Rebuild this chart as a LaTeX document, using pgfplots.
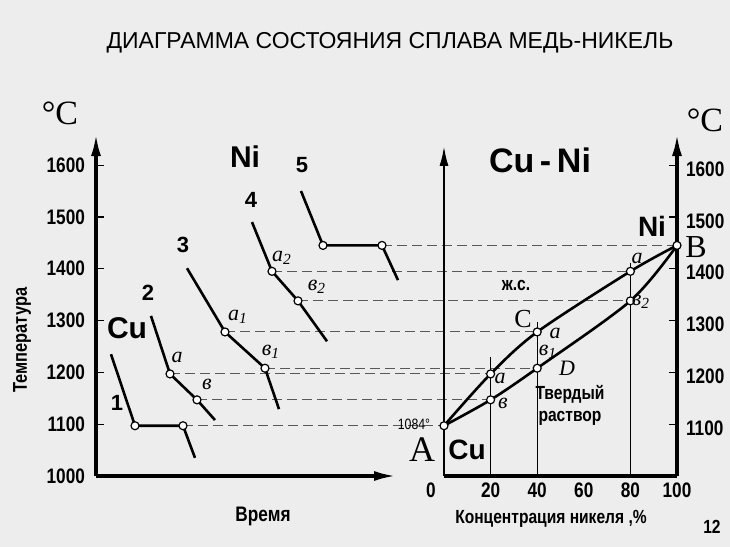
\documentclass[border=0pt]{standalone}
\usepackage{fontspec}
\setmainfont{Liberation Sans}
\newfontfamily\nar[FakeStretch=0.82]{Liberation Sans}
\newfontfamily\ser{Liberation Serif}
\usepackage{pgfplots}
\pgfplotsset{compat=1.18}
\usetikzlibrary{arrows.meta}
\definecolor{bg}{gray}{0.93}
\definecolor{dsh}{gray}{0.35}
\begin{document}
\begin{tikzpicture}
\path[use as bounding box, fill=bg] (0,0) rectangle (365pt,273.5pt);
\pgfplotsset{panel/.style={scale only axis, clip=false, ymin=1000, ymax=1660, height=171pt,
  anchor=south west, /pgf/number format/assume math mode=true, /pgf/number format/1000 sep={},
  ticklabel style={font=\nar\bfseries\fontsize{10.5}{12}\selectfont},
  tick align=inside, major tick length=4pt, tick style={line width=0.6pt, black}},
  curve/.style={black, line width=1.3pt},
  dl/.style={dsh, line width=0.5pt, dash pattern=on 5pt off 2.5pt},
  pts/.style={only marks, mark=*, mark size=2pt, mark options={fill=white, draw=black, line width=0.6pt}}}
% ---------------- left panel: cooling curves -------------
\begin{axis}[panel, at={(48pt,35.5pt)}, width=150pt, xmin=0, xmax=30,
  axis x line*=bottom, axis y line*=left,
  axis line style={line width=1.6pt, -{Latex[length=11pt,width=5pt]}},
  xtick=\empty, ytick={1000,1100,...,1600},
  yticklabel style={xshift=-2pt}]
% dashed connecting lines (time units continued to the right panel)
\addplot[dl] coordinates {(8.7,1097) (34.8,1097)};
\addplot[dl] coordinates {(7.4,1197) (39.46,1197)};
\addplot[dl] coordinates {(10.1,1147) (39.46,1147)};
\addplot[dl] coordinates {(12.9,1278) (44.12,1278)};
\addplot[dl] coordinates {(16.9,1208) (44.12,1208)};
\addplot[dl] coordinates {(17.6,1395) (53.44,1395)};
\addplot[dl] coordinates {(20.2,1338) (53.44,1338)};
\addplot[dl] coordinates {(28.6,1445) (58.1,1445)};
% curves
\addplot[curve] coordinates {(1.5,1235) (3.9,1097) (8.7,1097) (9.9,1035)};
\addplot[curve] coordinates {(5.5,1309) (7.4,1197) (10.1,1147) (11.9,1108)};
\addplot[curve] coordinates {(9.1,1401) (12.9,1278) (16.9,1208) (18.3,1129)};
\addplot[curve] coordinates {(15.6,1490) (17.6,1395) (20.2,1338) (23.1,1260)};
\addplot[curve] coordinates {(20.5,1550) (22.7,1445) (28.6,1445) (30.2,1378)};
\addplot[pts] coordinates {(3.9,1097) (8.7,1097) (7.4,1197) (10.1,1147) (12.9,1278) (16.9,1208)
  (17.6,1395) (20.2,1338) (22.7,1445) (28.6,1445)};
\end{axis}
% ---------------- right panel: phase diagram -------------
\begin{axis}[panel, at={(222pt,35.5pt)}, width=116.5pt, xmin=0, xmax=100,
  axis x line*=bottom, axis y line*=right,
  x axis line style={line width=1.6pt},
  y axis line style={line width=1.6pt, -{Latex[length=11pt,width=5pt]}},
  xtick={20,40,60,80,100}, xtick style={draw=none},
  ytick={1100,1200,...,1600}, yticklabel style={xshift=1pt, yshift=-2pt}]
\addplot[black, line width=1.1pt, -{Latex[length=10pt,width=4.5pt]}] coordinates {(0,1000) (0,1637)};
\addplot[black, line width=0.5pt] coordinates {(20,1000) (20,1230)};
\addplot[black, line width=0.5pt] coordinates {(40,1000) (40,1297)};
\addplot[black, line width=0.5pt] coordinates {(80,1000) (80,1411)};
\addplot[curve, smooth] coordinates {(0,1097) (20,1197) (40,1278) (80,1395) (100,1445)};
\addplot[curve, smooth] coordinates {(0,1097) (20,1147) (40,1208) (80,1338) (100,1445)};
\addplot[pts] coordinates {(0,1097) (20,1197) (40,1278) (80,1395) (100,1445) (20,1147) (40,1208) (80,1338)};
\end{axis}
% ---------------- texts -------------
\begin{scope}[shift={(0pt,273.5pt)}, x=0.5pt, y=-0.5pt]
\node[font=\fontsize{11.5}{13}\selectfont] at (390,43) {ДИАГРАММА СОСТОЯНИЯ СПЛАВА МЕДЬ-НИКЕЛЬ};
\node[font=\ser\fontsize{17}{20}\selectfont] at (60,113) {°C};
\node[font=\ser\fontsize{17}{20}\selectfont] at (705,120) {°C};
\node[rotate=90, font=\nar\bfseries\fontsize{10}{12}\selectfont] at (22,340) {Температура};
\node[font=\nar\bfseries\fontsize{10.5}{12}\selectfont] at (263,516) {Время};
\node[font=\nar\bfseries\fontsize{9.5}{12}\selectfont] at (551,519) {Концентрация никеля ,\%};
\node[font=\nar\bfseries\fontsize{9.5}{12}\selectfont] at (712,527) {12};
\node[font=\nar\bfseries\fontsize{10.5}{12}\selectfont] at (431,490) {0};
% curve numbers
\node[font=\bfseries\fontsize{11}{12}\selectfont] at (117,403) {1};
\node[font=\bfseries\fontsize{11}{12}\selectfont] at (148,293) {2};
\node[font=\bfseries\fontsize{11}{12}\selectfont] at (183,245) {3};
\node[font=\bfseries\fontsize{11}{12}\selectfont] at (251,200) {4};
\node[font=\bfseries\fontsize{11}{12}\selectfont] at (302,165) {5};
\node[font=\bfseries\fontsize{15}{16}\selectfont] at (127,328) {Cu};
\node[font=\bfseries\fontsize{15}{16}\selectfont] at (245,157) {Ni};
% point labels left
\node[font=\ser\itshape\fontsize{11}{12}\selectfont] at (177,357) {a};
\node[font=\ser\itshape\fontsize{11}{12}\selectfont] at (207,384) {в};
\node[font=\ser\itshape\fontsize{11}{12}\selectfont] at (238,317) {a\textsubscript{1}};
\node[font=\ser\itshape\fontsize{11}{12}\selectfont] at (271,352) {в\textsubscript{1}};
\node[font=\ser\itshape\fontsize{11}{12}\selectfont] at (282,258) {a\textsubscript{2}};
\node[font=\ser\itshape\fontsize{11}{12}\selectfont] at (317,287) {в\textsubscript{2}};
% right panel labels
\node[font=\bfseries\fontsize{17}{18}\selectfont] at (540,160) {Cu\,-\,Ni};
\node[font=\bfseries\fontsize{14}{15}\selectfont] at (652,226) {Ni};
\node[font=\ser\fontsize{16}{18}\selectfont, inner sep=0pt] at (696,247) {B};
\node[font=\nar\bfseries\fontsize{9.5}{12}\selectfont] at (516,285) {ж.с.};
\node[font=\ser\fontsize{13}{14}\selectfont] at (523,319) {C};
\node[font=\ser\itshape\fontsize{11}{12}\selectfont] at (555,333) {a};
\node[font=\ser\itshape\fontsize{11}{12}\selectfont] at (548,352) {в\textsubscript{1}};
\node[font=\ser\itshape\fontsize{11}{12}\selectfont] at (567,368) {D};
\node[font=\ser\itshape\fontsize{11}{12}\selectfont] at (500,378) {a};
\node[font=\ser\itshape\fontsize{11}{12}\selectfont] at (503,403) {в};
\node[font=\ser\itshape\fontsize{11}{12}\selectfont] at (637,258) {a};
\node[font=\ser\itshape\fontsize{11}{12}\selectfont] at (641,302) {в\textsubscript{2}};
\node[font=\nar\bfseries\fontsize{9.5}{11}\selectfont, align=center] at (570,405) {Твердый\\раствор};
\node[font=\nar\fontsize{7.5}{9}\selectfont] at (414,424) {1084°};
\node[font=\ser\fontsize{18}{20}\selectfont] at (422,450) {A};
\node[font=\bfseries\fontsize{14}{15}\selectfont] at (467,450) {Cu};
\end{scope}
\end{tikzpicture}
\end{document}
